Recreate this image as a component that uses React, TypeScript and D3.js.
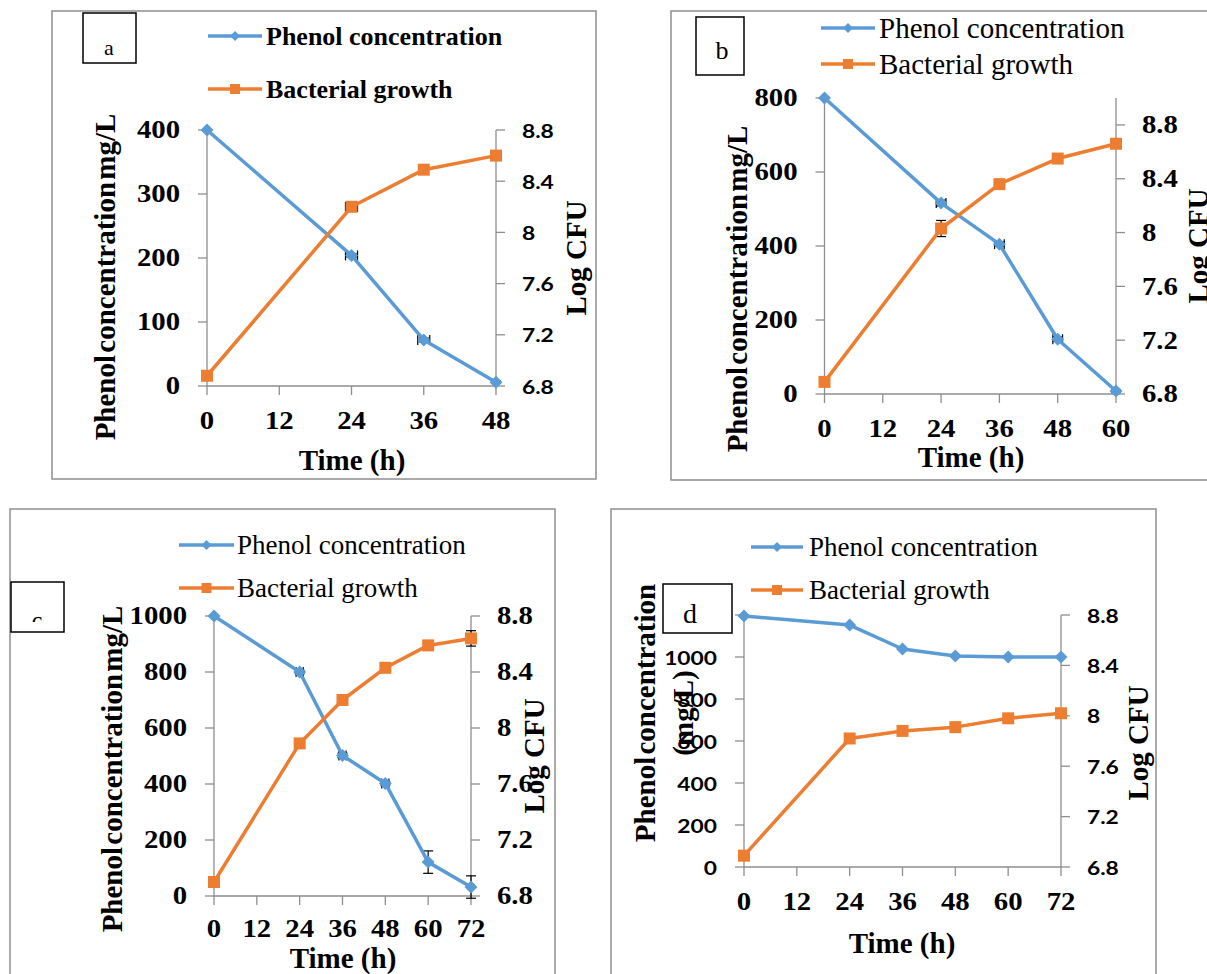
import React from "react";
import * as d3 from "d3";

// ---------------- DATA ----------------
const timeA = [0, 24, 36, 48];
const phenolA = [400, 204, 72, 6];
const growthA = [6.88, 8.2, 8.49, 8.6];
const phenolErrA = [0, 3, 3, 2];
const phenolXErrA = [0, 1, 1, 0];
const growthErrA = [0, 0.02, 0, 0];
const growthXErrA = [0, 1, 0, 0];

const timeB = [0, 24, 36, 48, 60];
const phenolB = [800, 516, 405, 148, 8];
const growthB = [6.89, 8.03, 8.36, 8.55, 8.66];
const phenolErrB = [0, 8, 6, 6, 4];
const phenolXErrB = [0, 1, 1, 1, 0];
const growthErrB = [0, 0.06, 0.03, 0.03, 0];
const growthXErrB = [0, 0, 0, 0, 0];

const timeC = [0, 24, 36, 48, 60, 72];
const phenolC = [1000, 800, 502, 402, 121, 32];
const growthC = [6.9, 7.89, 8.2, 8.43, 8.59, 8.64];
const phenolErrC = [0, 6, 8, 6, 40, 40];
const phenolXErrC = [0, 1, 1, 1, 0, 0];
const growthErrC = [0, 0.03, 0.03, 0.03, 0.03, 0.055];
const growthXErrC = [0, 0, 0, 0, 0, 0];

const timeD = [0, 24, 36, 48, 60, 72];
const phenolD = [1195, 1152, 1038, 1005, 1000, 1000];
const growthD = [6.89, 7.82, 7.88, 7.91, 7.98, 8.02];
const zeroD = [0, 0, 0, 0, 0, 0];

const xTicks48 = [0, 12, 24, 36, 48];
const xTicks60 = [0, 12, 24, 36, 48, 60];
const xTicks72 = [0, 12, 24, 36, 48, 60, 72];
const leftTicksA = [0, 100, 200, 300, 400];
const leftTicksB = [0, 200, 400, 600, 800];
const leftTicksC = [0, 200, 400, 600, 800, 1000];
const leftTicksD = [0, 200, 400, 600, 800, 1000, 1200];
const rightTicks = [6.8, 7.2, 7.6, 8, 8.4, 8.8];
const rightTickLabels = ["6.8", "7.2", "7.6", "8", "8.4", "8.8"];

const seriesNames = ["Phenol concentration", "Bacterial growth"];
const panelLetters = ["a", "b", "c", "d"];
const xTitle = "Time (h)";
const rightTitle = "Log CFU";

// ---------------- STYLE ----------------
const BLUE = "#5B9BD5";
const ORANGE = "#ED7D31";
const AXIS = "#8e8e8e";
const SERIF = "'Liberation Serif','Times New Roman',serif";
const SANS = "Lato,'Liberation Sans',Arial,sans-serif";

type Panel = {
  time: number[];
  phenol: number[];
  growth: number[];
  pErr: number[];
  pXErr: number[];
  gErr: number[];
  gXErr: number[];
  xTicks: number[];
  leftTicks: number[];
  xMax: number;
  leftMax: number;
  rightMax: number;
  frame: [number, number, number, number];
  plot: { x0: number; x1: number; yT: number; yB: number };
  box: { x: number; y: number; w: number; h: number; tx: number; ty: number; fs: number; clipY?: number };
  letter: string;
  legend: { lx1: number; lx2: number; y1: number; y2: number; tx: number; fs: number; bold: boolean };
  leftTickSans: boolean;
  rightTickSans: boolean;
  xLabelOffset: number;
  leftTitle: { lines: string[]; xs: number[]; y: number };
  rightTitleXY: [number, number];
  timeXY: [number, number];
};

const panels: Panel[] = [
  {
    time: timeA, phenol: phenolA, growth: growthA, pErr: phenolErrA, pXErr: phenolXErrA, gErr: growthErrA, gXErr: growthXErrA,
    xTicks: xTicks48, leftTicks: leftTicksA, xMax: 48, leftMax: 400, rightMax: 8.8,
    frame: [52, 11, 544, 468],
    plot: { x0: 207, x1: 496, yT: 130, yB: 386 },
    box: { x: 83, y: 13, w: 53, h: 50, tx: 109, ty: 55, fs: 22 },
    letter: panelLetters[0],
    legend: { lx1: 208, lx2: 262, y1: 36, y2: 89, tx: 266, fs: 26, bold: true },
    leftTickSans: false, rightTickSans: true, xLabelOffset: 43,
    leftTitle: { lines: ["Phenol concentration mg/L"], xs: [105], y: 277 },
    rightTitleXY: [576, 258],
    timeXY: [352, 470],
  },
  {
    time: timeB, phenol: phenolB, growth: growthB, pErr: phenolErrB, pXErr: phenolXErrB, gErr: growthErrB, gXErr: growthXErrB,
    xTicks: xTicks60, leftTicks: leftTicksB, xMax: 60, leftMax: 800, rightMax: 9.0,
    frame: [671, 11, 600, 469],
    plot: { x0: 824.5, x1: 1116, yT: 98, yB: 394 },
    box: { x: 696, y: 17, w: 48, h: 58, tx: 722, ty: 59, fs: 26 },
    letter: panelLetters[1],
    legend: { lx1: 821, lx2: 875, y1: 28, y2: 64, tx: 879, fs: 29, bold: false },
    leftTickSans: false, rightTickSans: false, xLabelOffset: 43,
    leftTitle: { lines: ["Phenol concentration mg/L"], xs: [737], y: 289 },
    rightTitleXY: [1198, 246],
    timeXY: [971, 467],
  },
  {
    time: timeC, phenol: phenolC, growth: growthC, pErr: phenolErrC, pXErr: phenolXErrC, gErr: growthErrC, gXErr: growthXErrC,
    xTicks: xTicks72, leftTicks: leftTicksC, xMax: 72, leftMax: 1000, rightMax: 8.8,
    frame: [10, 509, 545, 500],
    plot: { x0: 214, x1: 471, yT: 616, yB: 896 },
    box: { x: 11, y: 582, w: 53, h: 50, tx: 37, ty: 628, fs: 24, clipY: 622 },
    letter: panelLetters[2],
    legend: { lx1: 179, lx2: 234, y1: 545, y2: 588, tx: 237, fs: 27, bold: false },
    leftTickSans: false, rightTickSans: false, xLabelOffset: 41,
    leftTitle: { lines: ["Phenol concentration mg/L"], xs: [112], y: 769 },
    rightTitleXY: [534, 756],
    timeXY: [343, 968],
  },
  {
    time: timeD, phenol: phenolD, growth: growthD, pErr: zeroD, pXErr: zeroD, gErr: zeroD, gXErr: zeroD,
    xTicks: xTicks72, leftTicks: leftTicksD, xMax: 72, leftMax: 1200, rightMax: 8.8,
    frame: [611, 509, 545, 500],
    plot: { x0: 744, x1: 1061, yT: 615, yB: 867 },
    box: { x: 663, y: 584, w: 69, h: 49, tx: 690, ty: 623, fs: 28 },
    letter: panelLetters[3],
    legend: { lx1: 751, lx2: 803, y1: 547, y2: 590, tx: 809, fs: 27, bold: false },
    leftTickSans: true, rightTickSans: true, xLabelOffset: 43,
    leftTitle: { lines: ["Phenol concentration", "(mg/L)"], xs: [645, 683], y: 713 },
    rightTitleXY: [1138, 743],
    timeXY: [902, 953],
  },
];

const diamond = d3.symbol().type(d3.symbolSquare).size(84)();
const square = d3.symbol().type(d3.symbolSquare).size(144)();
const legDiamond = d3.symbol().type(d3.symbolSquare).size(50)();
const legSquare = d3.symbol().type(d3.symbolSquare).size(100)();

function TickText(props: { x: number; y: number; anchor: string; sans: boolean; children: React.ReactNode; baseline?: string }) {
  const { x, y, anchor, sans, children, baseline } = props;
  const sx = sans ? 1.2 : 1.15;
  return (
    <text
      transform={`translate(${x},${y}) scale(${sx},1)`}
      textAnchor={anchor}
      dominantBaseline={baseline || "central"}
      fontFamily={sans ? SANS : SERIF}
      fontWeight="bold"
      fontSize={sans ? 19 : 25}
      fill="#000"
    >
      {children}
    </text>
  );
}

function PanelView({ p, idx }: { p: Panel; idx: number }) {
  const x = d3.scaleLinear().domain([0, p.xMax]).range([p.plot.x0, p.plot.x1]);
  const yL = d3.scaleLinear().domain([0, p.leftMax]).range([p.plot.yB, p.plot.yT]);
  const yR = d3.scaleLinear().domain([6.8, p.rightMax]).range([p.plot.yB, p.plot.yT]);
  const lineL = d3.line<number>().x((_, i) => x(p.time[i])).y((v) => yL(v));
  const lineR = d3.line<number>().x((_, i) => x(p.time[i])).y((v) => yR(v));
  const { x0, x1, yT, yB } = p.plot;
  const tk = 9;
  const [fx, fy, fw, fh] = p.frame;
  const clipId = `clip-letter-${idx}`;

  const errBars = (vals: number[], yErr: number[], xErr: number[], ys: d3.ScaleLinear<number, number>) =>
    vals.map((v, i) => {
      const cx = x(p.time[i]);
      const cy = ys(v);
      const els: React.ReactNode[] = [];
      if (yErr[i] > 0) {
        const t = ys(v + yErr[i]);
        const b = ys(v - yErr[i]);
        els.push(
          <g key={`y${i}`} stroke="#000" strokeWidth={1.2}>
            <line x1={cx} x2={cx} y1={t} y2={b} />
            <line x1={cx - 5} x2={cx + 5} y1={t} y2={t} />
            <line x1={cx - 5} x2={cx + 5} y1={b} y2={b} />
          </g>
        );
      }
      if (xErr[i] > 0) {
        const l = x(p.time[i] - xErr[i]);
        const r = x(p.time[i] + xErr[i]);
        els.push(
          <g key={`x${i}`} stroke="#000" strokeWidth={1.2}>
            <line x1={l} x2={r} y1={cy} y2={cy} />
            <line x1={l} x2={l} y1={cy - 5} y2={cy + 5} />
            <line x1={r} x2={r} y1={cy - 5} y2={cy + 5} />
          </g>
        );
      }
      return els;
    });

  return (
    <g>
      <rect x={fx} y={fy} width={fw} height={fh} fill="#fff" stroke={AXIS} strokeWidth={1.5} />
      {/* axes */}
      <g stroke={AXIS} strokeWidth={1.3} fill="none">
        <line x1={x0} x2={x0} y1={yT} y2={yB} />
        <line x1={x1} x2={x1} y1={yT} y2={yB} />
        <line x1={x0} x2={x1} y1={yB} y2={yB} />
        {p.leftTicks.map((t) => (
          <line key={`lt${t}`} x1={x0 - tk} x2={x0} y1={yL(t)} y2={yL(t)} />
        ))}
        {rightTicks.filter((t) => t <= p.rightMax).map((t) => (
          <line key={`rt${t}`} x1={x1} x2={x1 + tk} y1={yR(t)} y2={yR(t)} />
        ))}
        {p.xTicks.map((t) => (
          <line key={`xt${t}`} x1={x(t)} x2={x(t)} y1={yB} y2={yB + tk} />
        ))}
      </g>
      {/* tick labels */}
      {p.leftTicks.map((t) => (
        <TickText key={`ll${t}`} x={x0 - 27} y={yL(t)} anchor="end" sans={p.leftTickSans}>
          {String(t)}
        </TickText>
      ))}
      {rightTicks.map((t, i) => (
        <TickText key={`rl${t}`} x={x1 + 26} y={yR(t)} anchor="start" sans={p.rightTickSans}>
          {rightTickLabels[i]}
        </TickText>
      ))}
      {p.xTicks.map((t) => (
        <TickText key={`xl${t}`} x={x(t)} y={yB + p.xLabelOffset} anchor="middle" sans={false} baseline="alphabetic">
          {String(t)}
        </TickText>
      ))}
      {/* titles */}
      <text x={p.timeXY[0]} y={p.timeXY[1]} textAnchor="middle" fontFamily={SERIF} fontWeight="bold" fontSize={29}>
        {xTitle}
      </text>
      {p.leftTitle.lines.map((ln, i) => (
        <text
          key={`lt-${i}`}
          transform={`translate(${p.leftTitle.xs[i]},${p.leftTitle.y}) rotate(-90)`}
          textAnchor="middle"
          dominantBaseline="central"
          fontFamily={SERIF}
          fontWeight="bold"
          fontSize={29}
          style={{ wordSpacing: ln.startsWith("Phenol") ? "-5px" : undefined }}
        >
          {ln}
        </text>
      ))}
      <text
        transform={`translate(${p.rightTitleXY[0]},${p.rightTitleXY[1]}) rotate(-90)`}
        textAnchor="middle"
        dominantBaseline="central"
        fontFamily={SERIF}
        fontWeight="bold"
        fontSize={29}
      >
        {rightTitle}
      </text>
      {/* series */}
      {errBars(p.phenol, p.pErr, p.pXErr, yL)}
      {errBars(p.growth, p.gErr, p.gXErr, yR)}
      <path d={lineL(p.phenol) || ""} fill="none" stroke={BLUE} strokeWidth={3.5} strokeLinejoin="round" />
      {p.phenol.map((v, i) => (
        <path key={`pm${i}`} d={diamond} transform={`translate(${x(p.time[i])},${yL(v)}) rotate(45)`} fill={BLUE} />
      ))}
      <path d={lineR(p.growth) || ""} fill="none" stroke={ORANGE} strokeWidth={3.5} strokeLinejoin="round" />
      {p.growth.map((v, i) => (
        <path key={`gm${i}`} d={square} transform={`translate(${x(p.time[i])},${yR(v)})`} fill={ORANGE} />
      ))}
      {/* legend */}
      {[0, 1].map((k) => {
        const ly = k === 0 ? p.legend.y1 : p.legend.y2;
        const col = k === 0 ? BLUE : ORANGE;
        const mx = (p.legend.lx1 + p.legend.lx2) / 2;
        return (
          <g key={`leg${k}`}>
            <line x1={p.legend.lx1} x2={p.legend.lx2} y1={ly} y2={ly} stroke={col} strokeWidth={3.5} />
            <path d={k === 0 ? legDiamond : legSquare} transform={`translate(${mx},${ly})${k === 0 ? " rotate(45)" : ""}`} fill={col} />
            <text
              x={p.legend.tx}
              y={ly}
              dominantBaseline="central"
              fontFamily={SERIF}
              fontWeight={p.legend.bold ? "bold" : "normal"}
              fontSize={p.legend.fs}
            >
              {seriesNames[k]}
            </text>
          </g>
        );
      })}
      {/* label box */}
      <rect x={p.box.x} y={p.box.y} width={p.box.w} height={p.box.h} fill="#fff" stroke="#000" strokeWidth={1.5} />
      {p.box.clipY !== undefined && (
        <clipPath id={clipId}>
          <rect x={p.box.x} y={p.box.y} width={p.box.w} height={p.box.clipY - p.box.y} />
        </clipPath>
      )}
      <text
        x={p.box.tx}
        y={p.box.ty}
        textAnchor="middle"
        fontFamily={SERIF}
        fontSize={p.box.fs}
        clipPath={p.box.clipY !== undefined ? `url(#${clipId})` : undefined}
      >
        {p.letter}
      </text>
    </g>
  );
}

export default function App() {
  return (
    <svg
      width={1207}
      height={974}
      viewBox="0 0 1207 974"
      style={{ position: "absolute", left: 0, top: 0, background: "#fff", display: "block" }}
    >
      <rect x={0} y={0} width={1207} height={974} fill="#fff" />
      {panels.map((p, i) => (
        <PanelView key={i} p={p} idx={i} />
      ))}
    </svg>
  );
}
